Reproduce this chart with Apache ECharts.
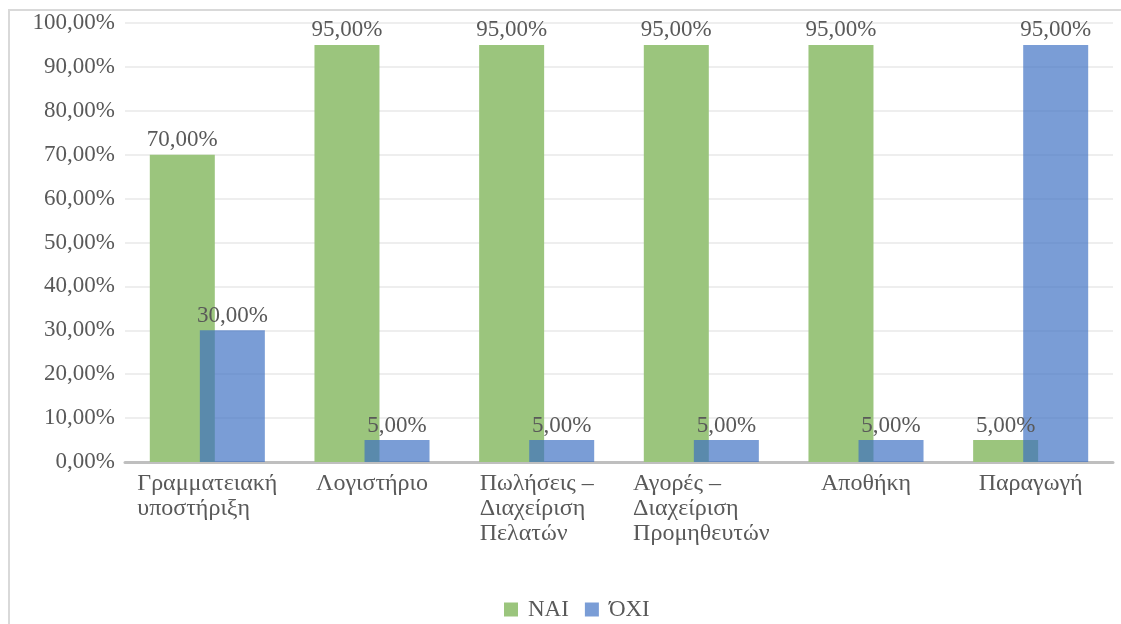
<!DOCTYPE html>
<html>
<head>
<meta charset="utf-8">
<script src="https://cdn.jsdelivr.net/npm/echarts@6/dist/echarts.min.js"></script>
<style>
  html, body { margin: 0; padding: 0; background: #fff; }
  #chart { width: 1121px; height: 624px; }
</style>
</head>
<body>
<div id="chart"></div>
<script>
const categories = [
  'Γραμματειακή\nυποστήριξη',
  'Λογιστήριο',
  'Πωλήσεις –\nΔιαχείριση\nΠελατών',
  'Αγορές –\nΔιαχείριση\nΠρομηθευτών',
  'Αποθήκη',
  'Παραγωγή'
]
const yesValues = [70, 95, 95, 95, 95, 5]
const noValues = [30, 5, 5, 5, 5, 95]
const seriesNames = ['NAI', 'ΌΧΙ']

const font = 'Liberation Serif, Times New Roman, serif'
const textColor = '#595959'

// 0,00% style with comma decimals
function pct(v) {
  return v.toFixed(2).replace('.', ',') + '%'
}

const chart = echarts.init(document.getElementById('chart'))
chart.setOption({
  animation: false,
  textStyle: { fontFamily: font },
  graphic: [
    // outer chart frame (left and top edges only are visible)
    { type: 'line', shape: { x1: 9, y1: 10, x2: 9, y2: 624 }, style: { stroke: '#d9d9d9', lineWidth: 2 } },
    { type: 'line', shape: { x1: 8, y1: 10, x2: 1121, y2: 10 }, style: { stroke: '#d9d9d9', lineWidth: 2 } }
  ],
  legend: {
    bottom: -2,
    left: 499,
    itemWidth: 14,
    itemHeight: 14,
    itemGap: 16,
    icon: 'rect',
    textStyle: { fontFamily: font, fontSize: 23, color: textColor, padding: [0, 0, 0, 5] },
    data: [
      { name: 'NAI', itemStyle: { color: '#9bc57d' } },
      { name: 'ΌΧΙ', itemStyle: { color: '#7a9dd6' } }
    ]
  },
  grid: { left: 125, right: 8, top: 23, bottom: 162 },
  xAxis: {
    type: 'category',
    data: categories,
    axisLine: { lineStyle: { color: '#bfbfbf', width: 3 } },
    axisTick: { show: false },
    axisLabel: {
      interval: 0,
      margin: 9,
      align: 'center',
      verticalAlign: 'top',
      formatter: function (v) {
        return v.split('\n').map(function (s) { return '{l|' + s + '}' }).join('\n')
      },
      rich: {
        l: { align: 'left', fontFamily: font, fontSize: 24, color: textColor, lineHeight: 25 }
      }
    }
  },
  yAxis: {
    type: 'value',
    min: 0,
    max: 100,
    interval: 10,
    axisLine: { show: false },
    axisTick: { show: false },
    splitLine: { lineStyle: { color: '#eeeeee', width: 2 } },
    axisLabel: {
      margin: 10,
      fontFamily: font,
      fontSize: 23,
      color: textColor,
      formatter: pct
    }
  },
  series: [
    {
      name: seriesNames[0],
      type: 'bar',
      data: yesValues,
      barWidth: 65,
      barGap: '-23%',
      itemStyle: { color: '#9bc57d' },
      label: {
        show: true,
        position: 'top',
        distance: 3,
        fontFamily: font,
        fontSize: 23,
        color: textColor,
        formatter: function (p) { return pct(p.value) }
      }
    },
    {
      name: seriesNames[1],
      type: 'bar',
      data: noValues,
      barWidth: 65,
      itemStyle: { color: 'rgba(59,111,195,0.68)' },
      label: {
        show: true,
        position: 'top',
        distance: 3,
        fontFamily: font,
        fontSize: 23,
        color: textColor,
        formatter: function (p) { return pct(p.value) }
      }
    }
  ]
})
</script>
</body>
</html>
